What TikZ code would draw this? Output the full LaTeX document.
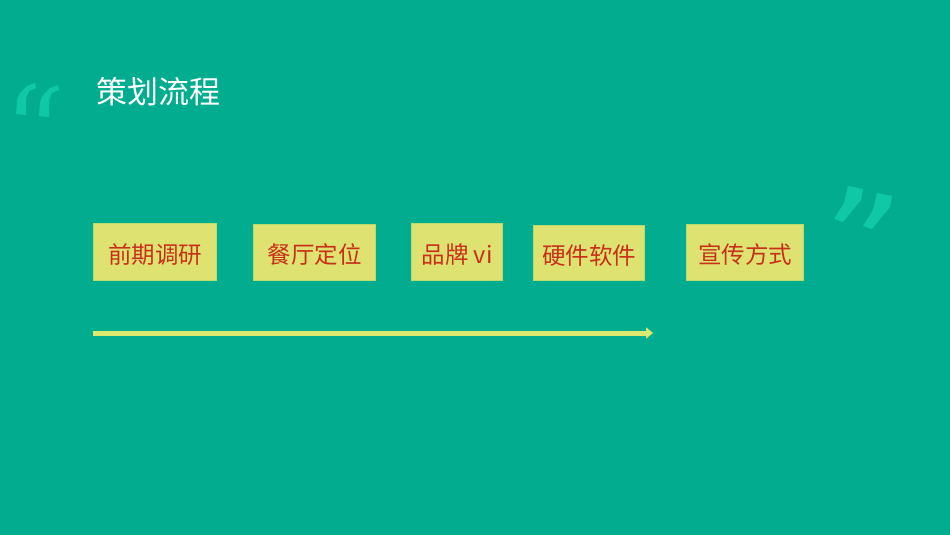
\documentclass[tikz,border=0pt]{standalone}
\usepackage{fontspec}
\setmainfont{Noto Sans CJK SC}
\newfontfamily\cjk{Noto Sans CJK SC}
\usetikzlibrary{arrows.meta}
\definecolor{bgteal}{HTML}{02AD8F}
\definecolor{quotec}{HTML}{10C7A6}
\definecolor{boxfill}{HTML}{DDE270}
\definecolor{boxedge}{HTML}{B9DB6E}
\definecolor{boxtext}{HTML}{C8301A}
\definecolor{arrowc}{HTML}{DCE86E}
\tikzset{
  stepbox/.style={draw=boxedge, line width=1pt, fill=boxfill, inner sep=0pt, anchor=north west},
  steptext/.style={text=boxtext, font=\cjk\fontsize{23.5}{27}\selectfont},
  quotemark/.style={fill=quotec, draw=none},
}
\begin{document}
\begin{tikzpicture}[x=1pt,y=-1pt]
\fill[bgteal] (0,0) rectangle (950,535);
\useasboundingbox (0,0) rectangle (950,535);
% left quote
\fill[quotemark] (16,114) -- (26,115) -- (26,98) -- (29,91) -- (36,88) -- (35,83) -- (27,86) -- (20,93) -- (17,100) -- cycle;
\fill[quotemark, shift={(23,2)}] (16,114) -- (26,115) -- (26,98) -- (29,91) -- (36,88) -- (35,83) -- (27,86) -- (20,93) -- (17,100) -- cycle;
% right quote
\fill[quotemark] (848,186) -- (863,189) -- (861,200) -- (843,222) -- (834,219) -- (844,203) -- cycle;
\fill[quotemark, shift={(29,7)}] (848,186) -- (863,189) -- (861,200) -- (843,222) -- (834,219) -- (844,203) -- cycle;
% title
\node[anchor=west, text=white, inner sep=0pt, font=\cjk\fontsize{31}{36}\selectfont] (title) at (96,92) {策划流程};
% boxes
\node[stepbox, minimum width=123pt, minimum height=57pt] (b1) at (93,223) {};
\node[stepbox, minimum width=122pt, minimum height=56pt] (b2) at (253,224) {};
\node[stepbox, minimum width=91pt, minimum height=57pt] (b3) at (411,223) {};
\node[stepbox, minimum width=111pt, minimum height=55pt] (b4) at (533,225) {};
\node[stepbox, minimum width=117pt, minimum height=56pt] (b5) at (686,224) {};
\node[steptext] (t1) at ([yshift=-2.5pt]b1.center) {前期调研};
\node[steptext] (t2) at ([yshift=-2.5pt]b2.center) {餐厅定位};
\node[steptext] (t3) at ([yshift=-2.5pt]b3.center) {品牌 vi};
\node[steptext] (t4) at ([yshift=-2.5pt]b4.center) {硬件软件};
\node[steptext] (t5) at ([yshift=-2.5pt]b5.center) {宣传方式};
% arrow
\coordinate (as) at (93,333);
\coordinate (ae) at (653,333);
\draw[arrowc, line width=5pt, -{Triangle[length=7pt,width=11pt]}] (as) -- (ae);
\end{tikzpicture}
\end{document}
